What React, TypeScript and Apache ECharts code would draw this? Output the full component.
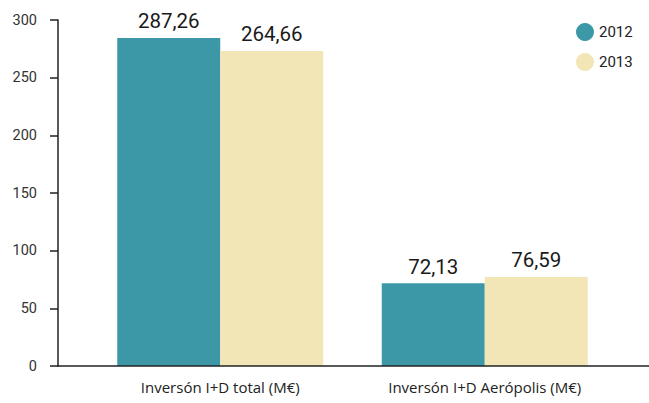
import React, { useEffect, useRef } from "react";
import * as echarts from "echarts";

const categories = ["Inversón I+D total (M€)", "Inversón I+D Aerópolis (M€)"];
const seriesNames = ["2012", "2013"];
// bar heights as drawn in the picture
const values2012 = [284.5, 71.8];
const values2013 = [273.2, 77.2];
// value labels as printed
const labels2012 = ["287,26", "72,13"];
const labels2013 = ["264,66", "76,59"];
const colors = ["#3C98A7", "#F2E5B6"];

export default function App() {
  const ref = useRef<HTMLDivElement>(null);
  useEffect(() => {
    if (!ref.current) return;
    const chart = echarts.init(ref.current, undefined, { renderer: "svg" });
    const font = "Roboto, 'Open Sans', sans-serif";
    const catFont = "'Open Sans', Roboto, sans-serif";
    const mk = (name: string, vals: number[], labs: string[], color: string) => ({
      name,
      type: "bar",
      data: vals,
      barWidth: 103,
      barGap: "0%",
      itemStyle: { color },
      label: {
        show: true,
        position: "top",
        distance: 6,
        fontSize: 20.5,
        fontFamily: font,
        color: "#1a1a1a",
        formatter: (p: any) => labs[p.dataIndex],
      },
    });
    chart.setOption({
      animation: false,
      textStyle: { fontFamily: font },
      grid: { left: 88, right: 32, top: 20, bottom: 37 },
      legend: {
        orient: "vertical",
        left: 571,
        top: 18,
        icon: "circle",
        itemWidth: 18,
        itemHeight: 18,
        itemGap: 12,
        textStyle: { fontSize: 15, color: "#222", fontFamily: font },
        data: seriesNames,
      },
      xAxis: {
        type: "category",
        data: categories,
        axisLine: { show: false },
        axisTick: { show: false },
        axisLabel: { interval: 0, hideOverlap: false, fontSize: 15, color: "#222", margin: 13, fontFamily: catFont },
      },
      yAxis: {
        type: "value",
        min: 0,
        max: 300,
        interval: 50,
        offset: 30,
        splitLine: { show: false },
        axisLine: { show: true, lineStyle: { color: "#222", width: 1.5 } },
        axisTick: { show: true, length: 8, lineStyle: { color: "#222", width: 1.5 } },
        axisLabel: { fontSize: 14.5, color: "#333", margin: 21, fontFamily: font },
      },
      graphic: [
        {
          type: "line",
          shape: { x1: 57, y1: 366, x2: 649, y2: 366 },
          style: { stroke: "#222", lineWidth: 1.5 },
          z: 10,
        },
      ],
      series: [
        mk(seriesNames[0], values2012, labels2012, colors[0]),
        mk(seriesNames[1], values2013, labels2013, colors[1]),
      ],
    });
    return () => chart.dispose();
  }, []);
  return <div ref={ref} style={{ width: 649, height: 403, position: "absolute", left: 0, top: 0 }} />;
}
